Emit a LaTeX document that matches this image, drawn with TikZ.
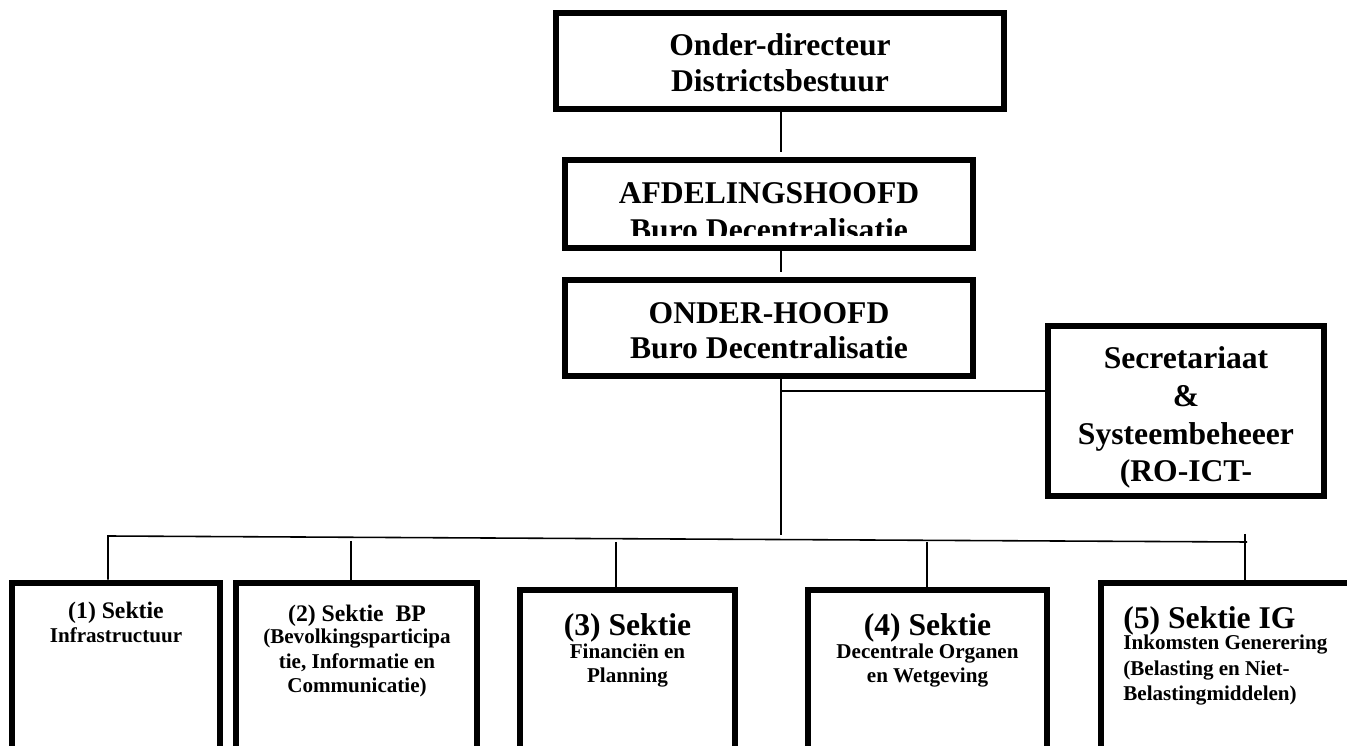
\documentclass[tikz,border=0pt]{standalone}
\usepackage{fontspec}
\setmainfont{Liberation Serif}
\begin{document}
\begin{tikzpicture}[x=0.02cm,y=-0.02cm,
    box/.style={draw,line width=3.4pt,inner sep=0pt},
    link/.style={line width=0.9pt},
    kop/.style={anchor=base,align=center,inner sep=0pt,
        font=\fontsize{18}{21}\selectfont\bfseries},
    sektie/.style={anchor=base,align=center,inner sep=0pt,
        font=\fontsize{12}{14.2}\selectfont\bfseries}]
    % page area
    \useasboundingbox (0,0) rectangle (1347,746);
    \clip (0,0) rectangle (1347,746);
    % upper boxes (text nodes sit on the baseline of their last line)
    \node[box,minimum width=8.96cm,minimum height=1.92cm] (dir) at (780,61) {};
    \node[kop] (dirtxt) at (780,92) {Onder-directeur\\Districtsbestuur};
    \node[box,minimum width=8.16cm,minimum height=1.76cm] (afd) at (769,204) {};
    \begin{scope}
        \clip (565,163) rectangle (973,236);
        \node[kop,font=\fontsize{18}{21.6}\selectfont\bfseries] (afdtxt) at (769,241)
            {AFDELINGSHOOFD\\Buro Decentralisatie};
    \end{scope}
    \node[box,minimum width=8.16cm,minimum height=1.92cm] (ond) at (769,328) {};
    \node[kop,font=\fontsize{18}{20.4}\selectfont\bfseries] (ondtxt) at (769,359)
        {ONDER-HOOFD\\Buro Decentralisatie};
    \node[box,minimum width=5.52cm,minimum height=3.40cm] (sec) at (1186,411) {};
    \node[kop,font=\fontsize{18}{21.5}\selectfont\bfseries] (sectxt) at (1186,482)
        {Secretariaat\\\&\\Systeembeheeer\\(RO-ICT-};
    % sections
    \node[box,minimum width=4.16cm,minimum height=3.74cm] (s1) at (116,676) {};
    \node[box,minimum width=4.82cm,minimum height=3.74cm] (s2) at (356.5,676) {};
    \node[box,minimum width=4.30cm,minimum height=3.60cm] (s3) at (627.5,680) {};
    \node[box,minimum width=4.78cm,minimum height=3.60cm] (s4) at (927.5,680) {};
    \node[box,minimum width=5.18cm,minimum height=3.74cm] (s5) at (1230.5,676) {};
    \node[sektie] (s1txt) at (116,643)
        {{\fontsize{13.5}{14.2}\selectfont (1) Sektie}\\Infrastructuur};
    \node[sektie] (s2txt) at (357,693)
        {{\fontsize{13.5}{14.2}\selectfont (2) Sektie\ \ BP}\\[-1.7pt](Bevolkingsparticipa\\tie, Informatie en\\Communicatie)};
    \node[sektie] (s3txt) at (627.5,683)
        {{\fontsize{18}{14.2}\selectfont (3) Sektie}\\[-1.1pt]Financiën en\\Planning};
    \node[sektie] (s4txt) at (927.5,683)
        {{\fontsize{18}{14.2}\selectfont (4) Sektie}\\[-1.1pt]Decentrale Organen\\en Wetgeving};
    \node[sektie,align=left,anchor=base west,font=\fontsize{12}{14.7}\selectfont\bfseries] (s5txt) at (1123,701)
        {{\fontsize{18}{14.7}\selectfont (5) Sektie IG}\\[-2.8pt]Inkomsten Generering\\(Belasting en Niet-\\Belastingmiddelen)};
    % lines
    \coordinate (t1) at (781,152);
    \coordinate (t2) at (781,272);
    \coordinate (t3) at (781,535);
    \coordinate (secjoin) at (781,391);
    \coordinate (bl) at (108,536);
    \coordinate (br) at (1247,542);
    \coordinate (c2) at (351,541);
    \coordinate (c3) at (616,542);
    \coordinate (c4) at (927,542);
    \coordinate (c5) at (1245,534);
    \draw[link] (dir.south -| t1) -- (t1);
    \draw[link] (afd.south -| t2) -- (t2);
    \draw[link] (ond.south -| t3) -- (t3);
    \draw[link] (secjoin) -- (secjoin -| sec.west);
    \draw[link] (s1.north -| bl) -- (bl) -- (br);
    \draw[link] (c2) -- (c2 |- s2.north);
    \draw[link] (c3) -- (c3 |- s3.north);
    \draw[link] (c4) -- (c4 |- s4.north);
    \draw[link] (c5) -- (c5 |- s5.north);
\end{tikzpicture}
\end{document}
